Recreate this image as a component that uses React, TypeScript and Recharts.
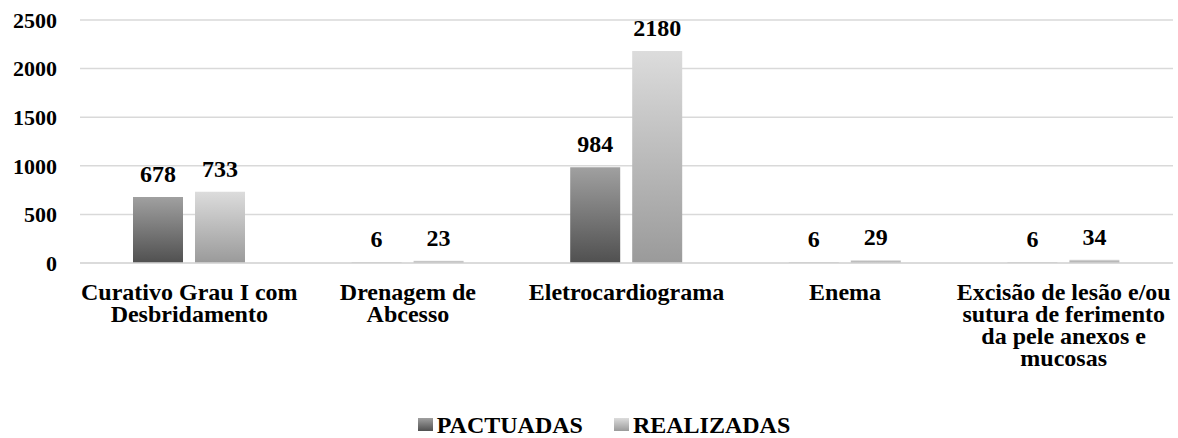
import { Bar, BarChart, CartesianGrid, LabelList, Legend, XAxis, YAxis } from "recharts";

const categories = [
  "Curativo Grau I com\nDesbridamento",
  "Drenagem de\nAbcesso",
  "Eletrocardiograma",
  "Enema",
  "Excisão de lesão e/ou\nsutura de ferimento\nda pele anexos e\nmucosas",
];
const pactuadas = [678, 6, 984, 6, 6];
const realizadas = [733, 23, 2180, 29, 34];
const yTicks = [0, 500, 1000, 1500, 2000, 2500];

const data = categories.map((name, i) => ({
  name,
  pactuadas: pactuadas[i],
  realizadas: realizadas[i],
}));

const FONT = '"Liberation Serif", "Times New Roman", serif';

function CategoryTick({ x, y, payload }: any) {
  const lines = String(payload.value).split("\n");
  return (
    <text
      x={x}
      y={y}
      textAnchor="middle"
      fontFamily={FONT}
      fontWeight="bold"
      fontSize={24}
      fill="#000"
    >
      {lines.map((line, i) => (
        <tspan key={i} x={x} dy={i === 0 ? 29 : 22}>
          {line}
        </tspan>
      ))}
    </text>
  );
}

function LegendBox() {
  const items = [
    { label: "PACTUADAS", bg: "linear-gradient(#a0a0a0, #505050)" },
    { label: "REALIZADAS", bg: "linear-gradient(#dcdcdc, #9a9a9a)" },
  ];
  return (
    <div
      style={{
        display: "flex",
        justifyContent: "center",
        gap: 31,
        paddingLeft: 35,
        paddingTop: 13,
        height: 40,
        boxSizing: "border-box",
        fontFamily: FONT,
        fontWeight: "bold",
        fontSize: 24,
        color: "#000",
      }}
    >
      {items.map((it) => (
        <div key={it.label} style={{ display: "flex", alignItems: "center", gap: 4, lineHeight: "24px" }}>
          <span style={{ width: 15, height: 13, background: it.bg, display: "inline-block" }} />
          <span>{it.label}</span>
        </div>
      ))}
    </div>
  );
}

export default function App() {
  return (
    <div style={{ position: "absolute", left: 0, top: 0, background: "#fff" }}>
      <BarChart
        width={1178}
        height={438}
        data={data}
        margin={{ top: 20, right: 5, left: 0, bottom: 0 }}
        barSize={50}
        barGap={12}
      >
        <defs>
          <linearGradient id="gradPac" x1="0" y1="0" x2="0" y2="1">
            <stop offset="0%" stopColor="#a0a0a0" />
            <stop offset="100%" stopColor="#505050" />
          </linearGradient>
          <linearGradient id="gradRea" x1="0" y1="0" x2="0" y2="1">
            <stop offset="0%" stopColor="#dcdcdc" />
            <stop offset="100%" stopColor="#9a9a9a" />
          </linearGradient>
        </defs>
        <CartesianGrid stroke="#d9d9d9" strokeWidth={1.5} vertical={false} />
        <XAxis
          dataKey="name"
          interval={0}
          height={135}
          tickLine={false}
          axisLine={{ stroke: "#d9d9d9", strokeWidth: 1.5 }}
          tick={<CategoryTick />}
        />
        <YAxis
          domain={[0, 2500]}
          ticks={yTicks}
          width={80}
          tickLine={false}
          axisLine={false}
          tickMargin={17}
          tick={{ fill: "#000", fontSize: 22, fontWeight: "bold", fontFamily: FONT }}
        />
        <Legend verticalAlign="bottom" content={<LegendBox />} wrapperStyle={{ height: 40 }} />
        <Bar dataKey="pactuadas" name="PACTUADAS" fill="url(#gradPac)" isAnimationActive={false}>
          <LabelList
            dataKey="pactuadas"
            position="top"
            offset={15}
            fill="#000"
            fontSize={24}
            fontWeight="bold"
            fontFamily={FONT}
          />
        </Bar>
        <Bar dataKey="realizadas" name="REALIZADAS" fill="url(#gradRea)" isAnimationActive={false}>
          <LabelList
            dataKey="realizadas"
            position="top"
            offset={15}
            fill="#000"
            fontSize={24}
            fontWeight="bold"
            fontFamily={FONT}
          />
        </Bar>
      </BarChart>
    </div>
  );
}
